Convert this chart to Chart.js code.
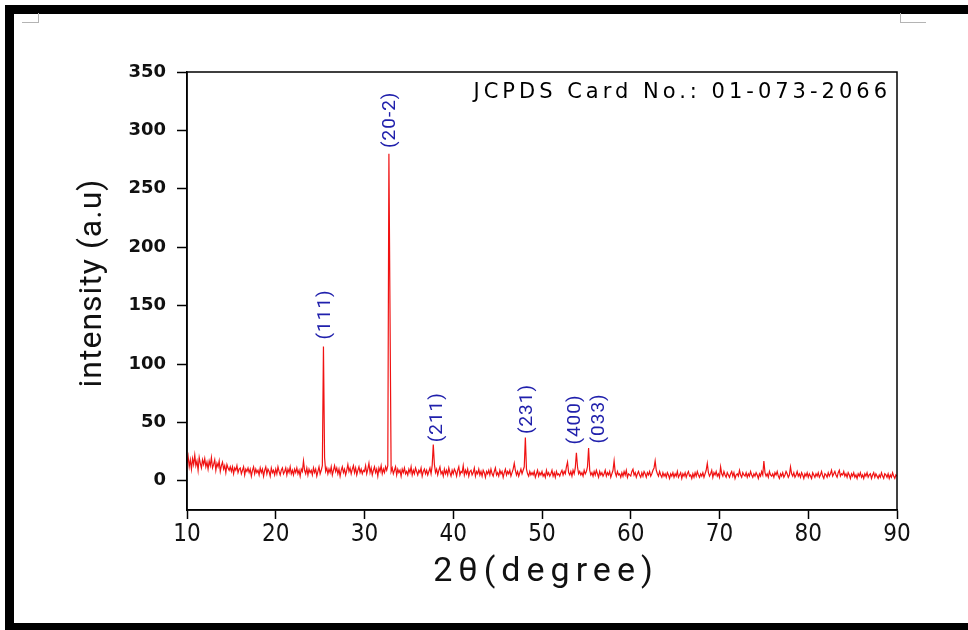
<!DOCTYPE html>
<html>
<head>
<meta charset="utf-8">
<title>XRD pattern</title>
<script src="https://cdn.jsdelivr.net/npm/chart.js@4.4.1/dist/chart.umd.min.js"></script>
<style>
  html, body { margin: 0; padding: 0; background: #ffffff; }
  #wrap { position: relative; width: 968px; height: 630px; overflow: hidden; background: #ffffff; }
  #xrdChart { position: absolute; left: 0; top: 0; }
  .band { position: absolute; background: #000000; }
  .corner { position: absolute; border: 0 solid #b4b4b4; }
</style>
</head>
<body>
<div id="wrap">
  <canvas id="xrdChart" width="968" height="630"></canvas>
  <div class="band" style="left:5px; top:5px; width:963px; height:9px;"></div>
  <div class="band" style="left:5px; top:5px; width:9px; height:625px;"></div>
  <div class="band" style="left:5px; top:623px; width:963px; height:7px;"></div>
  <div class="corner" style="left:22px; top:13px; width:16px; height:9px; border-right-width:1px; border-bottom-width:1px;"></div>
  <div class="corner" style="left:900px; top:13px; width:25px; height:9px; border-left-width:1px; border-bottom-width:1px;"></div>
</div>

<script>
// ======================================
// Adatok
// ======================================

const twoThetaStart = 10;
const twoThetaStep = 0.125;

// intenzitás 0.125 fokonként (soronként egy fok), 10-től 90 fokig
const intensity = [
  15, 21, 12, 18, 10, 19, 14, 22,   // 10
  13, 17, 9, 20, 15, 11, 18, 14,    // 11
  19, 12, 16, 10, 17, 13, 20, 11,   // 12
  14, 18, 9, 15, 12, 17, 8, 13,     // 13
  16, 10, 13, 7, 14, 11, 9, 12,     // 14
  8, 12, 6, 11, 9, 13, 7, 10,       // 15
  11, 6, 9, 12, 5, 10, 8, 11,       // 16
  7, 10, 4, 9, 12, 6, 10, 7,        // 17
  9, 5, 11, 7, 10, 4, 9, 12,        // 18
  6, 10, 8, 4, 11, 7, 9, 5,         // 19
  10, 6, 12, 8, 5, 9, 11, 6,        // 20
  8, 11, 5, 10, 7, 12, 6, 9,        // 21
  5, 10, 7, 11, 6, 9, 4, 10,        // 22
  8, 17, 9, 6, 11, 5, 10, 7,        // 23
  9, 5, 11, 7, 10, 4, 8, 12,        // 24
  6, 9, 13, 115, 20, 8, 11, 6,      // 25
  10, 7, 12, 5, 9, 13, 8, 11,       // 26
  6, 10, 4, 9, 12, 7, 10, 5,        // 27
  9, 14, 8, 11, 6, 10, 13, 7,       // 28
  11, 5, 9, 12, 7, 10, 6, 9,        // 29
  8, 13, 6, 10, 15, 7, 11, 5,       // 30
  9, 12, 7, 10, 4, 11, 8, 13,       // 31
  6, 10, 7, 12, 9, 13, 280, 143,    // 32
  8, 11, 6, 9, 12, 5, 10, 7,        // 33
  9, 4, 10, 7, 11, 6, 8, 5,         // 34
  10, 7, 12, 5, 9, 6, 11, 8,        // 35
  5, 9, 7, 11, 4, 8, 10, 6,         // 36
  9, 5, 8, 11, 6, 13, 31, 14,       // 37
  7, 10, 5, 9, 12, 6, 8, 4,         // 38
  10, 6, 9, 5, 11, 7, 4, 9,         // 39
  6, 10, 8, 4, 9, 12, 5, 8,         // 40
  7, 13, 5, 9, 6, 10, 4, 8,         // 41
  9, 5, 7, 11, 4, 8, 6, 10,         // 42
  5, 8, 4, 9, 7, 3, 8, 6,           // 43
  9, 5, 10, 6, 4, 8, 11, 5,         // 44
  7, 4, 9, 6, 8, 3, 7, 10,          // 45
  5, 8, 6, 9, 4, 7, 10, 15,         // 46
  9, 5, 8, 4, 7, 10, 6, 9,          // 47
  12, 37, 10, 6, 4, 8, 5, 7,        // 48
  5, 8, 3, 6, 9, 4, 7, 5,           // 49
  8, 4, 6, 3, 9, 5, 7, 4,           // 50
  6, 9, 4, 7, 3, 8, 5, 6,           // 51
  4, 7, 9, 5, 8, 6, 12, 16,         // 52
  7, 5, 8, 4, 9, 6, 11, 24,         // 53
  12, 6, 8, 5, 7, 4, 9, 6,          // 54
  8, 12, 28, 9, 5, 7, 4, 8,         // 55
  5, 9, 6, 3, 8, 5, 7, 4,           // 56
  6, 9, 4, 7, 5, 8, 3, 6,           // 57
  9, 17, 7, 4, 8, 5, 6, 3,          // 58
  7, 4, 8, 5, 9, 3, 6, 5,           // 59
  4, 8, 10, 5, 7, 3, 6, 8,          // 60
  5, 3, 7, 4, 8, 6, 3, 7,           // 61
  5, 8, 4, 6, 9, 11, 17, 9,         // 62
  6, 4, 8, 5, 3, 7, 4, 6,           // 63
  3, 7, 5, 2, 6, 4, 7, 3,           // 64
  6, 4, 8, 3, 5, 7, 2, 6,           // 65
  4, 7, 3, 6, 8, 4, 5, 2,           // 66
  6, 3, 7, 4, 8, 5, 3, 6,           // 67
  4, 7, 3, 6, 9, 15, 7, 4,          // 68
  6, 9, 3, 7, 5, 8, 4, 6,           // 69
  3, 12, 6, 4, 8, 5, 3, 7,          // 70
  5, 3, 6, 8, 4, 7, 2, 5,           // 71
  6, 4, 9, 5, 3, 7, 5, 4,           // 72
  7, 3, 6, 4, 8, 5, 3, 6,           // 73
  4, 7, 5, 2, 6, 4, 8, 5,           // 74
  17, 7, 4, 6, 3, 8, 5, 4,          // 75
  6, 3, 7, 5, 8, 4, 2, 6,           // 76
  4, 7, 3, 5, 8, 6, 3, 5,           // 77
  12, 6, 4, 7, 3, 5, 8, 4,          // 78
  6, 3, 7, 5, 2, 6, 4, 7,           // 79
  3, 6, 4, 2, 7, 5, 3, 6,           // 80
  4, 7, 3, 5, 8, 4, 2, 6,           // 81
  5, 3, 7, 4, 6, 9, 4, 6,           // 82
  8, 5, 3, 7, 9, 4, 6, 5,           // 83
  8, 4, 6, 3, 7, 5, 2, 6,           // 84
  4, 7, 3, 5, 2, 6, 4, 7,           // 85
  3, 5, 2, 6, 4, 7, 3, 5,           // 86
  6, 2, 5, 7, 3, 6, 4, 2,           // 87
  5, 3, 7, 4, 2, 6, 5, 3,           // 88
  6, 2, 5, 3, 7, 4, 2, 5,           // 89
  4                                 // 90
];

const xTickValues = [10, 20, 30, 40, 50, 60, 70, 80, 90];
const yTickValues = [0, 50, 100, 150, 200, 250, 300, 350];

// Miller-indexek és helyük (2θ, intenzitás)
const hklLabels = ["(111)", "(20-2)", "(211)", "(231)", "(400)", "(033)"];
const hklPositions = [25.6, 32.85, 38.15, 48.3, 53.7, 56.4];
const hklBottoms = [121, 285, 33, 40, 31, 32];

const cardText = "JCPDS Card No.: 01-073-2066";
const xTitle = "2θ(degree)";
const yTitle = "intensity (a.u)";


// ======================================
// Pontok összeállítása
// ======================================

const points = intensity.map((value, index) => {
  return { x: twoThetaStart + index * twoThetaStep, y: value };
});


// ======================================
// Feliratok, keret
// ======================================

const xrdDecor = {
  id: "xrdDecor",
  afterDraw(chart) {
    const ctx = chart.ctx;
    const area = chart.chartArea;
    const xScale = chart.scales.x;
    const yScale = chart.scales.y;

    ctx.save();

    ctx.strokeStyle = "#000000";
    ctx.lineWidth = 1.5;
    ctx.strokeRect(area.left, area.top, area.right - area.left, area.bottom - area.top);

    ctx.fillStyle = "#2020ac";
    ctx.font = "19px Roboto";
    ctx.letterSpacing = "1px";
    ctx.textAlign = "left";
    ctx.textBaseline = "middle";

    hklLabels.forEach((label, i) => {
      const px = xScale.getPixelForValue(hklPositions[i]);
      const py = yScale.getPixelForValue(hklBottoms[i]);

      ctx.save();
      ctx.translate(px, py);
      ctx.rotate(-Math.PI / 2);
      ctx.fillText(label, 0, 0);
      ctx.restore();
    });

    ctx.fillStyle = "#000000";
    ctx.font = "21px 'DejaVu Sans'";
    ctx.letterSpacing = "4px";
    ctx.textAlign = "right";
    ctx.textBaseline = "alphabetic";
    ctx.fillText(cardText, area.right - 6, area.top + 26);

    ctx.fillStyle = "#111111";
    ctx.font = "34px Roboto";
    ctx.letterSpacing = "6px";
    ctx.textAlign = "center";
    ctx.fillText(xTitle, (area.left + area.right) / 2 + 4, 581);

    ctx.font = "32px Roboto";
    ctx.letterSpacing = "1px";
    ctx.save();
    ctx.translate(101, 283);
    ctx.rotate(-Math.PI / 2);
    ctx.fillText(yTitle, 0, 0);
    ctx.restore();

    ctx.restore();
  }
};


// ======================================
// Diagram
// ======================================

new Chart(document.getElementById("xrdChart"), {
  type: "line",
  data: {
    datasets: [
      {
        label: "XRD",
        data: points,
        borderColor: "#f01212",
        borderWidth: 1.2,
        pointRadius: 0,
        tension: 0,
        fill: false
      }
    ]
  },
  options: {
    responsive: false,
    animation: false,
    devicePixelRatio: 1,
    layout: {
      padding: { left: 0, right: 71, top: 72, bottom: 0 }
    },
    plugins: {
      legend: { display: false },
      tooltip: { enabled: false }
    },
    scales: {
      x: {
        type: "linear",
        min: 10,
        max: 90,
        afterBuildTicks: (axis) => {
          axis.ticks = xTickValues.map((v) => ({ value: v }));
        },
        afterFit: (scale) => {
          scale.height = 120;
        },
        grid: {
          drawOnChartArea: false,
          drawTicks: true,
          tickLength: 9,
          tickWidth: 1.5,
          tickColor: "#000000"
        },
        border: { display: true, color: "#000000", width: 1.5 },
        ticks: {
          color: "#111111",
          padding: 1,
          maxRotation: 0,
          font: { family: "'Liberation Sans Narrow', 'DejaVu Sans Condensed', Roboto", size: 24 }
        }
      },
      y: {
        type: "linear",
        min: -25,
        max: 350,
        afterBuildTicks: (axis) => {
          axis.ticks = yTickValues.map((v) => ({ value: v }));
        },
        afterFit: (scale) => {
          scale.width = 187;
        },
        grid: {
          drawOnChartArea: false,
          drawTicks: true,
          tickLength: 10,
          tickWidth: 1.5,
          tickColor: "#000000"
        },
        border: { display: true, color: "#000000", width: 1.5 },
        ticks: {
          color: "#111111",
          padding: 11,
          font: { family: "'DejaVu Sans'", size: 18, weight: "bold" }
        }
      }
    }
  },
  plugins: [xrdDecor]
});
</script>
</body>
</html>
